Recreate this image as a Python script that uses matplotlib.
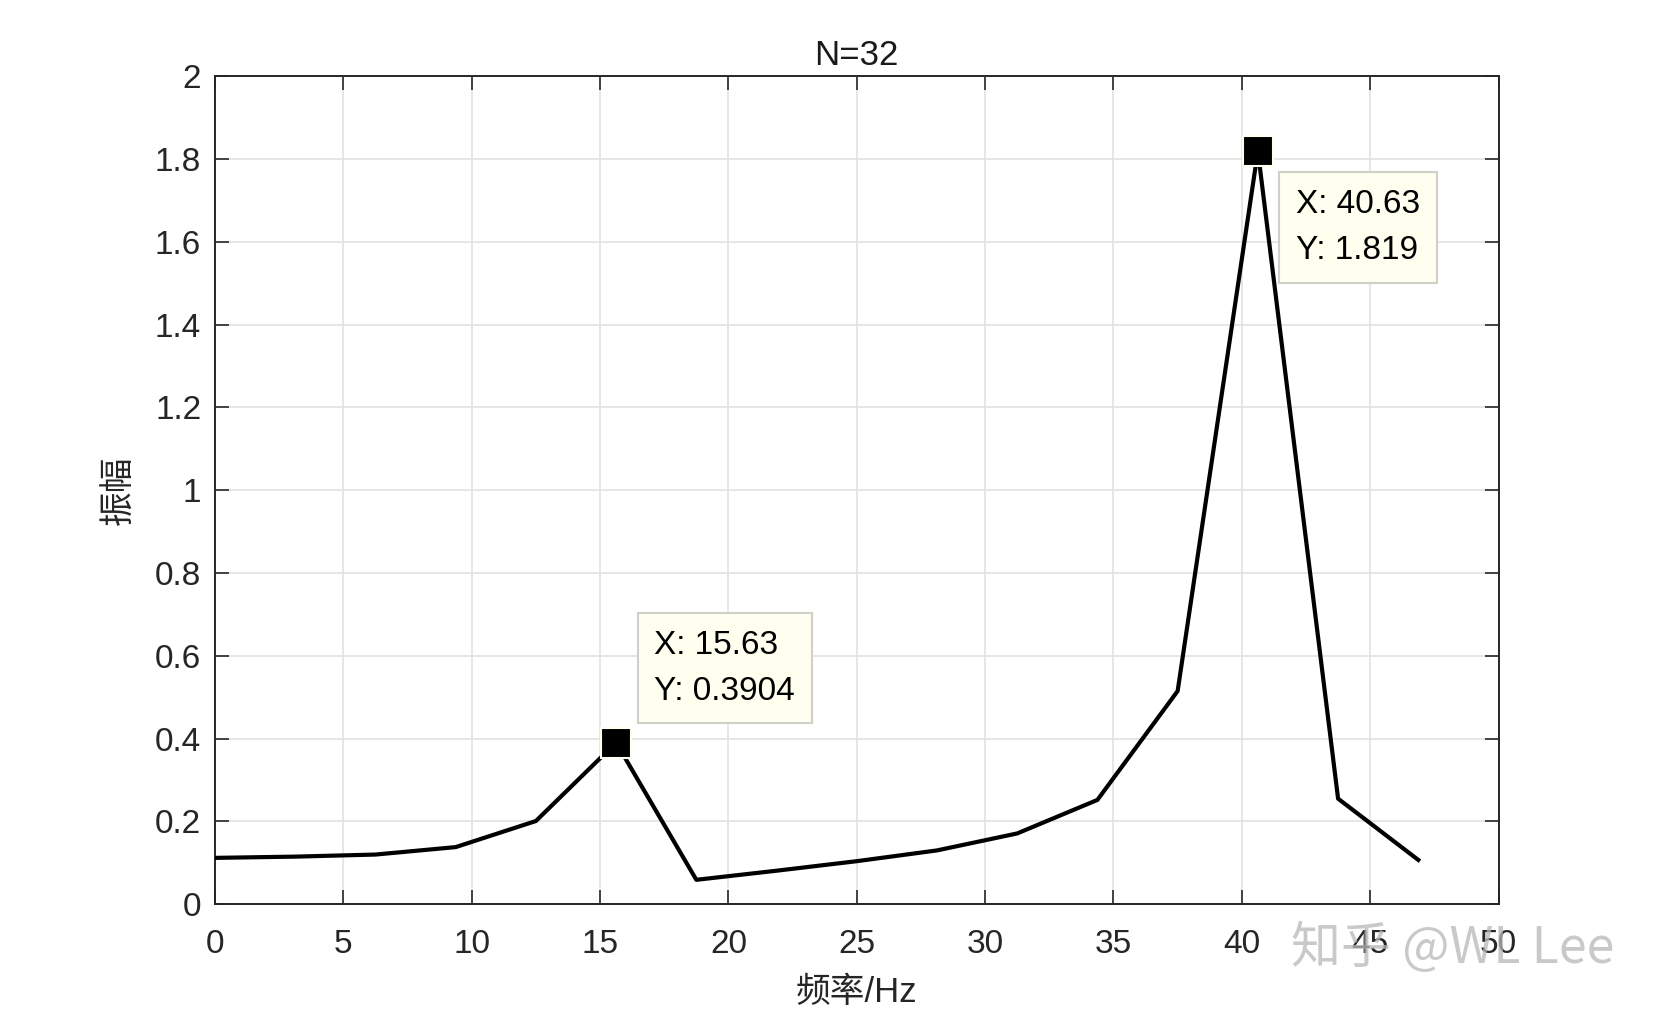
import matplotlib
matplotlib.use("Agg")
import matplotlib.pyplot as plt
import numpy as np

plt.rcParams['font.family'] = ['Liberation Sans', 'Noto Sans CJK SC', 'DejaVu Sans']

# Data
freq = [0.0, 3.125, 6.25, 9.375, 12.5, 15.625, 18.75, 21.875, 25.0, 28.125,
        31.25, 34.375, 37.5, 40.625, 43.75, 46.875]
amp = [0.112, 0.115, 0.120, 0.138, 0.201, 0.3904, 0.059, 0.081, 0.104, 0.130,
       0.171, 0.252, 0.515, 1.819, 0.255, 0.107]
tip_x = [15.63, 40.63]
tip_y = [0.3904, 1.819]
tip_text = ["X: 15.63\nY: 0.3904", "X: 40.63\nY: 1.819"]
xticks = [0, 5, 10, 15, 20, 25, 30, 35, 40, 45, 50]
yticks = [0, 0.2, 0.4, 0.6, 0.8, 1, 1.2, 1.4, 1.6, 1.8, 2]
ytick_labels = ["0", "0.2", "0.4", "0.6", "0.8", "1", "1.2", "1.4", "1.6", "1.8", "2"]

fig = plt.figure(figsize=(16.54, 10.16), dpi=100)
ax = fig.add_axes([0.130, 0.110, 0.776, 0.815])

ax.plot(freq, amp, color='black', linewidth=3.0, zorder=3)
ax.plot(tip_x, tip_y, linestyle='none', marker='s', markersize=21,
        markerfacecolor='black', markeredgecolor='#fffff0', markeredgewidth=1.5, zorder=4)

ax.set_xlim(0, 50)
ax.set_ylim(0, 2)
ax.set_xticks(xticks)
ax.set_yticks(yticks)
ax.set_yticklabels(ytick_labels)
ax.grid(True, color='#e2e2e2', linewidth=1.2, zorder=0)
ax.set_axisbelow(True)
ax.tick_params(direction='in', length=10, width=1.2, top=True, right=True,
               labelsize=24, colors='#262626')
ax.tick_params(axis='x', pad=18)
ax.tick_params(axis='y', pad=10)
for s in ax.spines.values():
    s.set_color('#262626')
    s.set_linewidth(1.4)

ax.set_title('N=32', fontsize=25, color='#1a1a1a', pad=8)
ax.set_xlabel('频率/Hz', fontsize=25, color='#262626', labelpad=11)
ax.set_ylabel('振幅', fontsize=25, color='#262626', labelpad=14)

bbox = dict(boxstyle='square,pad=0.5', facecolor='#fffff0', edgecolor='#d0d0c8', linewidth=1.5)
# first tip above-right, second tip below-right
ax.annotate(tip_text[0], xy=(tip_x[0], tip_y[0]), xytext=(38, 36), textcoords='offset pixels',
            ha='left', va='bottom', fontsize=24, linespacing=1.62, bbox=bbox, zorder=5)
ax.annotate(tip_text[1], xy=(tip_x[1], tip_y[1]), xytext=(38, -38), textcoords='offset pixels',
            ha='left', va='top', fontsize=24, linespacing=1.62, bbox=bbox, zorder=5)

fig.text(0.976, 0.066, '知乎 @WL Lee', fontsize=36, color='#b8b8b8', alpha=0.75,
         ha='right', va='center', family=['Noto Sans CJK SC', 'DejaVu Sans'], zorder=10)

fig.savefig('out.png', dpi=100, facecolor='white')
